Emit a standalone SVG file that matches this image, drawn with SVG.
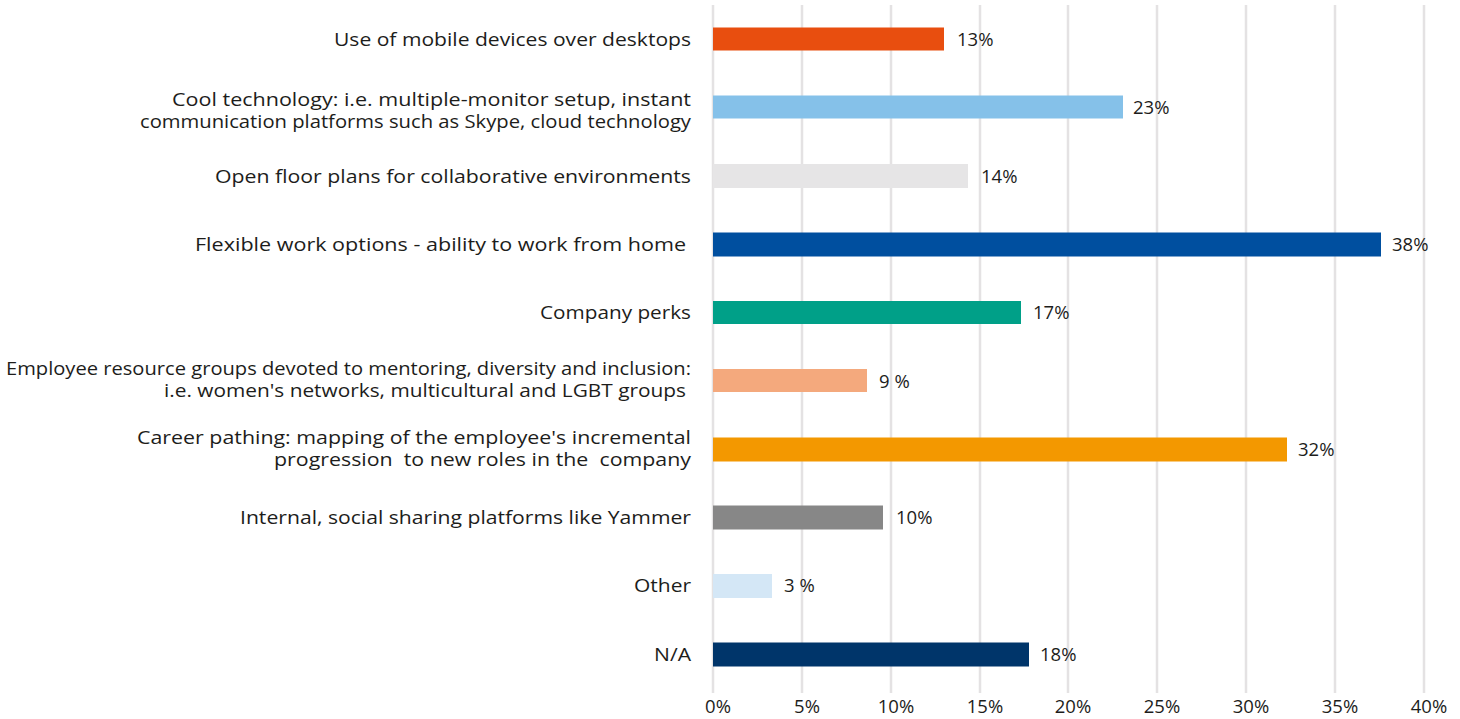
<svg xmlns="http://www.w3.org/2000/svg" width="1460" height="719" viewBox="0 0 1460 719">
<style>
.grid{stroke:#E4E2E3;stroke-width:2.5}
.lbl{font-family:"Open Sans","Noto Sans","Liberation Sans",sans-serif;font-size:18px;fill:#1d1d1b;text-anchor:end}
.val{font-family:"Open Sans","Noto Sans","Liberation Sans",sans-serif;font-size:18.5px;fill:#1d1d1b}
.ax{font-family:"Open Sans","Noto Sans","Liberation Sans",sans-serif;font-size:18.5px;fill:#1d1d1b;text-anchor:middle}
</style>
<rect width="1460" height="719" fill="#ffffff"/>
<g id="gridlines">
<line class="grid" x1="713" y1="5" x2="713" y2="693"/>
<line class="grid" x1="802" y1="5" x2="802" y2="693"/>
<line class="grid" x1="891" y1="5" x2="891" y2="693"/>
<line class="grid" x1="980" y1="5" x2="980" y2="693"/>
<line class="grid" x1="1068" y1="5" x2="1068" y2="693"/>
<line class="grid" x1="1157" y1="5" x2="1157" y2="693"/>
<line class="grid" x1="1246" y1="5" x2="1246" y2="693"/>
<line class="grid" x1="1335" y1="5" x2="1335" y2="693"/>
<line class="grid" x1="1424" y1="5" x2="1424" y2="693"/>
</g>
<g id="axis-labels">
<text class="ax" x="718" y="713">0%</text>
<text class="ax" x="807" y="713">5%</text>
<text class="ax" x="896" y="713">10%</text>
<text class="ax" x="985" y="713">15%</text>
<text class="ax" x="1073" y="713">20%</text>
<text class="ax" x="1162" y="713">25%</text>
<text class="ax" x="1251" y="713">30%</text>
<text class="ax" x="1340" y="713">35%</text>
<text class="ax" x="1429" y="713">40%</text>
</g>
<g id="row-mobile">
<text class="lbl" x="691" y="46" textLength="357" lengthAdjust="spacingAndGlyphs">Use of mobile devices over desktops</text>
<rect x="713" y="27.5" width="231" height="23" fill="#E84E0F"/>
<text class="val" x="957" y="46">13%</text>
</g>
<g id="row-cooltech">
<text class="lbl" x="691" y="106" textLength="519" lengthAdjust="spacingAndGlyphs">Cool technology: i.e. multiple-monitor setup, instant</text>
<text class="lbl" x="691" y="128" textLength="551" lengthAdjust="spacingAndGlyphs">communication platforms such as Skype, cloud technology</text>
<rect x="713" y="95.5" width="410" height="23" fill="#85C1E9"/>
<text class="val" x="1133" y="114">23%</text>
</g>
<g id="row-openfloor">
<text class="lbl" x="691" y="183" textLength="476" lengthAdjust="spacingAndGlyphs">Open floor plans for collaborative environments</text>
<rect x="713" y="164" width="255" height="24" fill="#E6E5E6"/>
<text class="val" x="981" y="183">14%</text>
</g>
<g id="row-flexible">
<text class="lbl" x="686" y="251" textLength="491" lengthAdjust="spacingAndGlyphs">Flexible work options - ability to work from home</text>
<rect x="713" y="232.5" width="668" height="24" fill="#004F9F"/>
<text class="val" x="1392" y="251">38%</text>
</g>
<g id="row-perks">
<text class="lbl" x="691" y="319" textLength="151" lengthAdjust="spacingAndGlyphs">Company perks</text>
<rect x="713" y="301" width="308" height="23" fill="#00A088"/>
<text class="val" x="1033" y="319">17%</text>
</g>
<g id="row-erg">
<text class="lbl" x="691" y="375" textLength="685" lengthAdjust="spacingAndGlyphs">Employee resource groups devoted to mentoring, diversity and inclusion:</text>
<text class="lbl" x="686" y="397" textLength="522" lengthAdjust="spacingAndGlyphs">i.e. women's networks, multicultural and LGBT groups</text>
<rect x="713" y="369" width="154" height="23" fill="#F4A97D"/>
<text class="val" x="879" y="388">9 %</text>
</g>
<g id="row-career">
<text class="lbl" x="691" y="444" textLength="554" lengthAdjust="spacingAndGlyphs">Career pathing: mapping of the employee's incremental</text>
<text class="lbl" x="691" y="466" textLength="417" lengthAdjust="spacingAndGlyphs" xml:space="preserve">progression  to new roles in the  company</text>
<rect x="713" y="437.5" width="574" height="24" fill="#F39800"/>
<text class="val" x="1298" y="456">32%</text>
</g>
<g id="row-internal">
<text class="lbl" x="691" y="524" textLength="451" lengthAdjust="spacingAndGlyphs">Internal, social sharing platforms like Yammer</text>
<rect x="713" y="505.5" width="170" height="24" fill="#878787"/>
<text class="val" x="896" y="524">10%</text>
</g>
<g id="row-other">
<text class="lbl" x="691" y="592" textLength="57" lengthAdjust="spacingAndGlyphs">Other</text>
<rect x="713" y="574" width="59" height="24" fill="#D4E7F6"/>
<text class="val" x="784" y="592">3 %</text>
</g>
<g id="row-na">
<text class="lbl" x="691" y="661" textLength="37" lengthAdjust="spacingAndGlyphs">N/A</text>
<rect x="713" y="642.5" width="316" height="24" fill="#00356A"/>
<text class="val" x="1040" y="661">18%</text>
</g>
</svg>
